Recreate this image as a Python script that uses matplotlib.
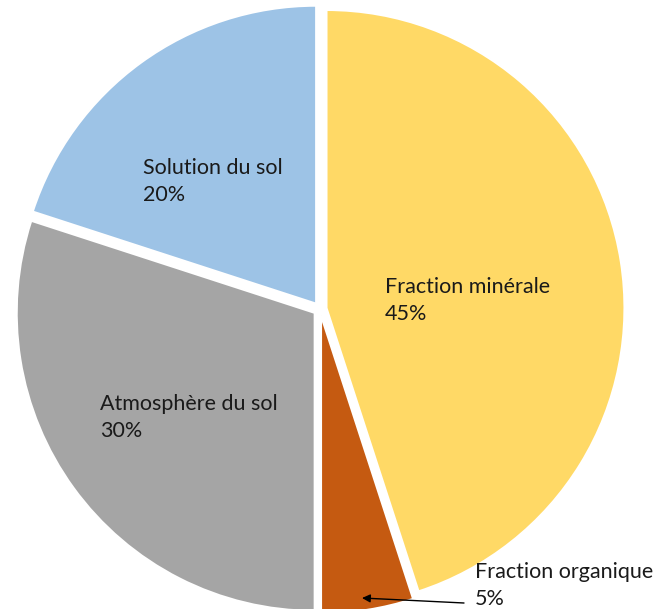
import matplotlib
matplotlib.use("Agg")
import matplotlib.pyplot as plt

categories = ["Fraction minérale", "Fraction organique", "Atmosphère du sol", "Solution du sol"]
values = [45, 5, 30, 20]
colors = ["#FFD966", "#C55A11", "#A5A5A5", "#9DC3E6"]

plt.rcParams['font.family'] = ['Lato', 'DejaVu Sans']

W, H = 654, 609
fig = plt.figure(figsize=(W / 100, H / 100), dpi=100)
ax = fig.add_axes([0, 0, 1, 1])

CX, CY, R = 320, 309, 298  # pixel geometry of the pie

ax.pie(values, colors=colors, startangle=90, counterclock=False,
       explode=[0.022] * len(values), radius=1,
       wedgeprops=dict(edgecolor="white", linewidth=1.5))
ax.set_aspect('auto')
ax.set_xlim((0 - CX) / R, (W - CX) / R)
ax.set_ylim((CY - H) / R, (CY - 0) / R)
ax.axis('off')


def px(x, y):
    return (x - CX) / R, (CY - y) / R


label_pos = {
    "Fraction minérale": (385, 293),
    "Fraction organique": (475, 578),
    "Atmosphère du sol": (100, 410),
    "Solution du sol": (143, 174),
}
LS = 27
FS = 15.5
for cat, val in zip(categories, values):
    x, y = label_pos[cat]
    ax.text(*px(x, y), cat, ha='left', va='baseline', fontsize=FS, color='#1a1a1a')
    ax.text(*px(x, y + LS), f"{val}%", ha='left', va='baseline', fontsize=FS, color='#1a1a1a')

ax.annotate("", xy=px(362, 598), xytext=px(464, 603),
            arrowprops=dict(arrowstyle="-|>", color="black", lw=1.0,
                            mutation_scale=12, shrinkA=0, shrinkB=0))

fig.savefig("out.png", dpi=100)
